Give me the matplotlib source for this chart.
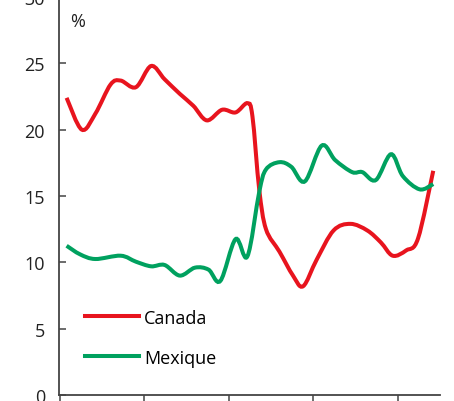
import numpy as np
import matplotlib
matplotlib.use("Agg")
import matplotlib.pyplot as plt
from matplotlib.path import Path
from matplotlib.patches import PathPatch

plt.rcParams['font.family'] = ['Open Sans', 'DejaVu Sans']

# share of imports (%)
canada_x = [1995.4, 1996.3, 1997.1, 1998.0, 1998.6, 1999.5, 2000.4, 2001.2, 2002.1,
            2002.9, 2003.7, 2004.6, 2005.4, 2006.1, 2006.4, 2006.8, 2007.2, 2008.0,
            2008.8, 2009.4, 2010.2, 2011.2, 2012.2, 2013.2, 2014.0, 2014.7, 2015.5,
            2016.2, 2017.1]
canada_y = [22.4, 20.0, 21.2, 23.4, 23.7, 23.2, 24.8, 23.8, 22.7,
            21.8, 20.7, 21.5, 21.3, 22.0, 21.0, 15.5, 12.5, 10.8,
            9.0, 8.2, 10.2, 12.4, 12.9, 12.4, 11.5, 10.5, 10.9,
            11.8, 16.9]

mexique_x = [1995.4, 1996.2, 1997.1, 1998.6, 1999.5, 2000.4, 2001.2, 2002.1, 2003.0,
             2003.8, 2004.5, 2005.4, 2006.1, 2006.8, 2007.2, 2008.0, 2008.7, 2009.5,
             2010.5, 2011.3, 2012.3, 2012.9, 2013.7, 2014.6, 2015.3, 2016.3, 2017.1]
mexique_y = [11.25, 10.6, 10.25, 10.5, 10.05, 9.7, 9.8, 9.0, 9.6,
             9.45, 8.6, 11.75, 10.45, 15.3, 17.0, 17.55, 17.2, 16.1,
             18.8, 17.7, 16.8, 16.8, 16.2, 18.15, 16.5, 15.5, 15.9]

years = [1995, 2000, 2005, 2010, 2015]


def smooth_path(xs, ys):
    # catmull-rom through the points, drawn as cubic beziers
    p = np.column_stack([xs, ys])
    pts = np.vstack([p[0], p, p[-1]])
    verts = [p[0]]
    codes = [Path.MOVETO]
    for i in range(1, len(pts) - 2):
        c1 = pts[i] + (pts[i + 1] - pts[i - 1]) / 6
        c2 = pts[i + 1] - (pts[i + 2] - pts[i]) / 6
        verts += [c1, c2, pts[i + 1]]
        codes += [Path.CURVE4] * 3
    return Path(verts, codes)


fig = plt.figure(figsize=(4.54, 4.02), dpi=100)
ax = fig.add_axes([59 / 454, 6 / 402, 381 / 454, 398 / 402])

red = '#E8141E'
green = '#00A15F'

ax.add_patch(PathPatch(smooth_path(canada_x, canada_y), fill=False,
                       edgecolor=red, lw=2.9, capstyle='butt'))
ax.add_patch(PathPatch(smooth_path(mexique_x, mexique_y), fill=False,
                       edgecolor=green, lw=2.9, capstyle='butt'))

ax.set_xlim(1994.95, 2017.5)
ax.set_ylim(0, 30)
ax.set_xticks(years)
ax.set_xticklabels([])
ax.set_yticks([0, 5, 10, 15, 20, 25, 30])

for s in ['top', 'right']:
    ax.spines[s].set_visible(False)
for s in ['left', 'bottom']:
    ax.spines[s].set_color('#444444')
    ax.spines[s].set_linewidth(1.3)

ax.tick_params(axis='y', direction='in', length=5, width=1.1, color='#444444',
               labelsize=13, labelcolor='#222222', pad=10)
ax.tick_params(axis='x', direction='out', length=6, width=1.1, color='#444444')

ax.text(0.028, 28.2, '%', transform=ax.get_yaxis_transform(), fontsize=13,
        color='#222222', va='center', ha='left')

ax.plot([], [], color=red, lw=2.9, label='Canada')
ax.plot([], [], color=green, lw=2.9, label='Mexique')
ax.legend(loc='lower left', bbox_to_anchor=(0.025, 0.03), frameon=False,
          fontsize=13, handlelength=3.0, handletextpad=0.3, labelspacing=1.22)

fig.savefig('out.png', dpi=100)
